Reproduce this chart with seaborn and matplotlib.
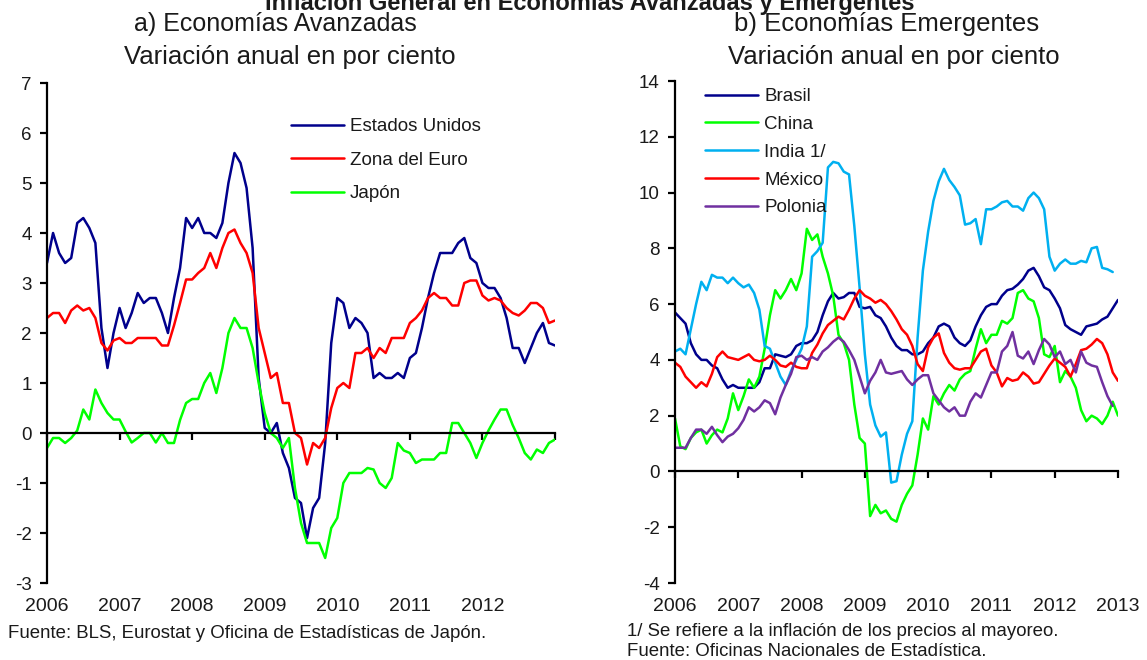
import numpy as np
import matplotlib
matplotlib.use("Agg")
import matplotlib.pyplot as plt
import seaborn as sns

# -------------------- DATA --------------------
# a) Economias avanzadas, monthly, dic-2005 .. dic-2012
years_a = ["2006", "2007", "2008", "2009", "2010", "2011", "2012"]
estados_unidos = [
    3.4,
    4.0, 3.6, 3.4, 3.5, 4.2, 4.3, 4.1, 3.8, 2.1, 1.3, 2.0, 2.5,
    2.1, 2.4, 2.8, 2.6, 2.7, 2.7, 2.4, 2.0, 2.7, 3.3, 4.3, 4.1,
    4.3, 4.0, 4.0, 3.9, 4.2, 5.0, 5.6, 5.4, 4.9, 3.7, 1.1, 0.1,
    0.0, 0.2, -0.4, -0.7, -1.3, -1.4, -2.1, -1.5, -1.3, -0.2, 1.8, 2.7,
    2.6, 2.1, 2.3, 2.2, 2.0, 1.1, 1.2, 1.1, 1.1, 1.2, 1.1, 1.5,
    1.6, 2.1, 2.7, 3.2, 3.6, 3.6, 3.6, 3.8, 3.9, 3.5, 3.4, 3.0,
    2.9, 2.9, 2.7, 2.3, 1.7, 1.7, 1.4, 1.7, 2.0, 2.2, 1.8, 1.75,
]
zona_euro = [
    2.3,
    2.4, 2.4, 2.2, 2.45, 2.55, 2.45, 2.5, 2.3, 1.8, 1.65, 1.85, 1.9,
    1.8, 1.8, 1.9, 1.9, 1.9, 1.9, 1.75, 1.75, 2.15, 2.6, 3.07, 3.07,
    3.2, 3.3, 3.6, 3.3, 3.7, 4.0, 4.07, 3.8, 3.6, 3.2, 2.1, 1.6,
    1.1, 1.2, 0.6, 0.6, 0.0, -0.1, -0.63, -0.2, -0.3, -0.1, 0.5, 0.9,
    1.0, 0.9, 1.6, 1.6, 1.7, 1.5, 1.7, 1.6, 1.9, 1.9, 1.9, 2.2,
    2.3, 2.45, 2.7, 2.8, 2.7, 2.7, 2.55, 2.55, 3.0, 3.05, 3.05, 2.75,
    2.65, 2.7, 2.65, 2.5, 2.4, 2.35, 2.45, 2.6, 2.6, 2.5, 2.2, 2.25,
]
japon = [
    -0.3,
    -0.1, -0.1, -0.2, -0.1, 0.05, 0.47, 0.27, 0.87, 0.6, 0.4, 0.27, 0.27,
    0.03, -0.19, -0.1, 0.0, 0.0, -0.19, 0.0, -0.2, -0.2, 0.26, 0.6, 0.68,
    0.68, 1.0, 1.2, 0.8, 1.3, 2.0, 2.3, 2.1, 2.1, 1.7, 1.0, 0.4,
    0.0, -0.1, -0.3, -0.1, -1.1, -1.8, -2.2, -2.2, -2.2, -2.5, -1.9, -1.7,
    -1.0, -0.8, -0.8, -0.8, -0.7, -0.73, -1.0, -1.1, -0.9, -0.2, -0.35, -0.4,
    -0.6, -0.53, -0.53, -0.53, -0.4, -0.4, 0.2, 0.2, 0.0, -0.2, -0.5, -0.2,
    0.05, 0.27, 0.47, 0.47, 0.16, -0.1, -0.4, -0.53, -0.33, -0.4, -0.2, -0.13,
]

# b) Economias emergentes, monthly, ene-2006 .. ene-2013
years_b = ["2006", "2007", "2008", "2009", "2010", "2011", "2012", "2013"]
brasil = [
    5.7, 5.5, 5.3, 4.6, 4.2, 4.0, 4.0, 3.8, 3.7, 3.3, 3.0, 3.1,
    3.0, 3.0, 3.0, 3.0, 3.2, 3.7, 3.7, 4.2, 4.15, 4.1, 4.2, 4.5,
    4.6, 4.6, 4.7, 5.0, 5.6, 6.1, 6.4, 6.2, 6.25, 6.4, 6.4, 5.9,
    5.85, 5.9, 5.6, 5.5, 5.2, 4.8, 4.5, 4.35, 4.35, 4.2, 4.2, 4.3,
    4.6, 4.8, 5.2, 5.3, 5.2, 4.8, 4.6, 4.5, 4.7, 5.2, 5.6, 5.9,
    6.0, 6.0, 6.3, 6.5, 6.55, 6.7, 6.9, 7.2, 7.3, 7.0, 6.6, 6.5,
    6.2, 5.85, 5.25, 5.1, 5.0, 4.9, 5.2, 5.25, 5.3, 5.45, 5.55, 5.85,
    6.15,
]
china = [
    1.9, 0.9, 0.8, 1.2, 1.4, 1.5, 1.0, 1.3, 1.5, 1.4, 1.9, 2.8,
    2.2, 2.7, 3.3, 3.0, 3.4, 4.4, 5.6, 6.5, 6.2, 6.5, 6.9, 6.5,
    7.1, 8.7, 8.3, 8.5, 7.7, 7.1, 6.3, 4.9, 4.6, 4.0, 2.4, 1.2,
    1.0, -1.6, -1.2, -1.5, -1.4, -1.7, -1.8, -1.2, -0.8, -0.5, 0.6, 1.9,
    1.5, 2.7, 2.4, 2.8, 3.1, 2.9, 3.3, 3.5, 3.6, 4.4, 5.1, 4.6,
    4.9, 4.9, 5.4, 5.3, 5.5, 6.4, 6.5, 6.2, 6.1, 5.5, 4.2, 4.1,
    4.5, 3.2, 3.6, 3.4, 3.0, 2.2, 1.8, 2.0, 1.9, 1.7, 2.0, 2.5,
    2.0,
]
india = [
    4.3, 4.4, 4.2, 5.1, 6.0, 6.8, 6.5, 7.05, 6.95, 6.95, 6.75, 6.95,
    6.75, 6.6, 6.7, 6.4, 5.8, 4.5, 4.4, 3.9, 3.4, 3.1, 3.6, 4.0,
    4.4, 5.2, 7.7, 7.9, 8.2, 10.9, 11.1, 11.05, 10.75, 10.65, 8.8, 6.6,
    4.2, 2.4, 1.65, 1.25, 1.4, -0.4, -0.35, 0.6, 1.35, 1.8, 4.8, 7.2,
    8.6, 9.7, 10.4, 10.85, 10.45, 10.2, 9.9, 8.85, 8.9, 9.05, 8.15, 9.4,
    9.4, 9.5, 9.65, 9.7, 9.5, 9.5, 9.35, 9.8, 10.0, 9.8, 9.4, 7.7,
    7.2, 7.45, 7.6, 7.45, 7.45, 7.55, 7.5, 8.0, 8.05, 7.3, 7.25, 7.15,
]
mexico = [
    3.9, 3.75, 3.4, 3.2, 3.0, 3.2, 3.05, 3.5, 4.1, 4.3, 4.1, 4.05,
    4.0, 4.1, 4.2, 4.0, 3.95, 4.0, 4.15, 4.0, 3.8, 3.75, 3.9, 3.75,
    3.7, 3.7, 4.25, 4.55, 4.95, 5.25, 5.4, 5.55, 5.45, 5.8, 6.2, 6.5,
    6.3, 6.2, 6.05, 6.15, 6.0, 5.75, 5.45, 5.1, 4.9, 4.5, 3.85, 3.6,
    4.45, 4.8, 4.95, 4.25, 3.9, 3.7, 3.65, 3.7, 3.7, 4.0, 4.3, 4.4,
    3.8, 3.55, 3.05, 3.35, 3.25, 3.3, 3.55, 3.4, 3.15, 3.2, 3.5, 3.8,
    4.05, 3.9, 3.75, 3.4, 3.85, 4.35, 4.4, 4.55, 4.75, 4.6, 4.2, 3.55,
    3.25,
]
polonia = [
    0.85, 0.85, 0.85, 1.2, 1.5, 1.5, 1.35, 1.6, 1.3, 1.05, 1.25, 1.35,
    1.55, 1.85, 2.3, 2.15, 2.3, 2.55, 2.45, 2.05, 2.65, 3.1, 3.5, 4.1,
    4.15, 4.0, 4.1, 4.0, 4.3, 4.45, 4.65, 4.8, 4.65, 4.35, 4.0, 3.4,
    2.8, 3.25, 3.55, 4.0, 3.55, 3.5, 3.55, 3.6, 3.3, 3.1, 3.3, 3.45,
    3.45, 2.8, 2.55, 2.3, 2.15, 2.3, 2.0, 2.0, 2.5, 2.8, 2.65, 3.1,
    3.55, 3.55, 4.3, 4.5, 5.0, 4.15, 4.05, 4.3, 3.85, 4.35, 4.75, 4.55,
    4.1, 4.3, 3.85, 4.0, 3.55, 4.3, 3.9, 3.8, 3.75, 3.2, 2.7, 2.35,
]

# -------------------- STYLE --------------------
sns.set_theme(style="ticks")
plt.rcParams["font.family"] = ["Liberation Sans", "DejaVu Sans"]
plt.rcParams["axes.unicode_minus"] = False  # plain hyphen like the original
TXT = "#1a1a1a"
W, H = 1147, 660

fig = plt.figure(figsize=(W / 100, H / 100), dpi=100)
ax1 = fig.add_axes([47 / W, 77 / H, 508 / W, 500 / H])
ax2 = fig.add_axes([675 / W, 77 / H, 443 / W, 502 / H])


def style_panel(ax, ymin, ymax, ystep, labels):
    n = 84
    ax.set_xlim(0, n)
    ax.set_ylim(ymin, ymax)
    ax.set_yticks(np.arange(ymin, ymax + 1, ystep))
    ax.set_xticks(np.arange(0, n + 1, 12))
    ax.set_xlabel("")
    ax.set_ylabel("")
    # x axis line sits on zero, labels go to the bottom
    ax.spines["bottom"].set_position(("data", 0))
    ax.spines[["top", "right"]].set_visible(False)
    for s in ["bottom", "left"]:
        ax.spines[s].set_color("black")
        ax.spines[s].set_linewidth(1.6)
    ax.tick_params(axis="x", direction="out", length=5, width=1.6,
                   color="black", labelbottom=False)
    ax.tick_params(axis="y", direction="out", length=5, width=1.6,
                   color="black", labelsize=13.5, labelcolor=TXT, pad=6)
    sec = ax.secondary_xaxis("bottom")
    sec.set_xticks(np.arange(0, 12 * len(labels), 12), labels)
    sec.tick_params(length=0, labelsize=14, labelcolor=TXT, pad=11)
    sec.spines["bottom"].set_visible(False)


# -------------------- PANEL A --------------------
series_a = [("Estados Unidos", estados_unidos, "#00008C"),
            ("Zona del Euro", zona_euro, "#FF0000"),
            ("Japón", japon, "#00FF00")]
for name, vals, col in series_a:
    sns.lineplot(x=np.arange(len(vals)), y=vals, ax=ax1, color=col,
                 linewidth=1.8, label=name)
style_panel(ax1, -3, 7, 1, years_a)
ax1.legend(loc="upper left", bbox_to_anchor=(291 / W, 1 - 118 / H),
           bbox_transform=fig.transFigure, frameon=False, fontsize=13.5,
           handlelength=2.8, handletextpad=0.35, labelspacing=0.88,
           borderpad=0, borderaxespad=0, labelcolor=TXT)

# -------------------- PANEL B --------------------
series_b = [("Brasil", brasil, "#00008C"),
            ("China", china, "#00FF00"),
            ("India 1/", india, "#00B0F0"),
            ("México", mexico, "#FF0000"),
            ("Polonia", polonia, "#7030A0")]
for name, vals, col in series_b:
    sns.lineplot(x=np.arange(len(vals)), y=vals, ax=ax2, color=col,
                 linewidth=1.8, label=name)
style_panel(ax2, -4, 14, 2, years_b)
ax2.legend(loc="upper left", bbox_to_anchor=(705 / W, 1 - 88 / H),
           bbox_transform=fig.transFigure, frameon=False, fontsize=13.5,
           handlelength=2.8, handletextpad=0.35, labelspacing=0.57,
           borderpad=0, borderaxespad=0, labelcolor=TXT)

# -------------------- TEXTS --------------------
fig.text(590 / W, 1 - 10 / H, "Inflación General en Economías Avanzadas y Emergentes",
         ha="center", va="baseline", fontsize=17, fontweight="bold", color=TXT)
fig.text(275 / W, 1 - 31 / H, "a) Economías Avanzadas", ha="center",
         va="baseline", fontsize=18, color=TXT)
fig.text(290 / W, 1 - 64 / H, "Variación anual en por ciento", ha="center",
         va="baseline", fontsize=18.5, color=TXT)
fig.text(887 / W, 1 - 31 / H, "b) Economías Emergentes", ha="center",
         va="baseline", fontsize=18.5, color=TXT)
fig.text(894 / W, 1 - 64 / H, "Variación anual en por ciento", ha="center",
         va="baseline", fontsize=18.5, color=TXT)

fig.text(8 / W, 1 - 633 / H, "Fuente: BLS, Eurostat y Oficina de Estadísticas de Japón.",
         ha="left", va="center", fontsize=13.4, color=TXT)
fig.text(627 / W, 1 - 632 / H, "1/ Se refiere a la inflación de los precios al mayoreo.",
         ha="left", va="center", fontsize=13.4, color=TXT)
fig.text(627 / W, 1 - 651 / H, "Fuente: Oficinas Nacionales de Estadística.",
         ha="left", va="center", fontsize=13.4, color=TXT)

fig.savefig("out.png", dpi=100)
